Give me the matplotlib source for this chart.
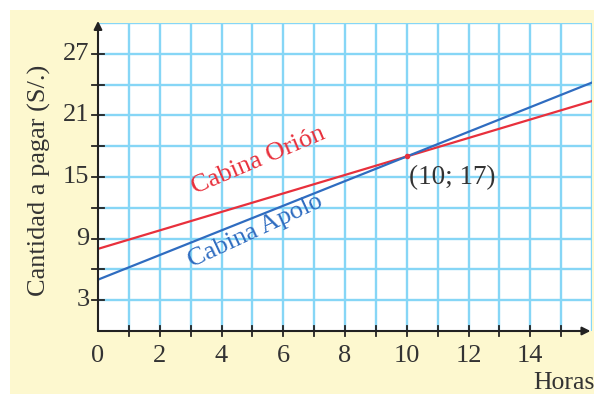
import matplotlib
matplotlib.use("Agg")
import matplotlib.pyplot as plt
from matplotlib.patches import Rectangle

# datos
horas = [0, 16]
orion = [8, 22.4]      # 8 + 0.9x
apolo = [5, 24.2]      # 5 + 1.2x
x_ticks = [0, 2, 4, 6, 8, 10, 12, 14]
y_ticks = [3, 9, 15, 21, 27]
punto = (10, 17)

plt.rcParams['font.family'] = ['Liberation Serif', 'DejaVu Serif']

fig = plt.figure(figsize=(5.94, 3.94), dpi=100)
fig.patch.set_facecolor('white')
fig.patches.append(Rectangle((10/594, 0), 1, 384/394, transform=fig.transFigure,
                             facecolor='#fdf8cf', edgecolor='none', zorder=-10))

ax = fig.add_axes([98/594, 63/394, 494/594, 308/394])
ax.set_facecolor('white')
ax.set_xlim(0, 16)
ax.set_ylim(0, 30)

# cuadricula
for gx in range(1, 17):
    ax.axvline(gx, color='#86d6f6', lw=1.7, zorder=1)
for gy in range(3, 31, 3):
    ax.axhline(gy, color='#86d6f6', lw=1.7, zorder=1)

ax.plot(horas, orion, color='#e8303c', lw=1.6, zorder=3)
ax.plot(horas, apolo, color='#2f6cc0', lw=1.6, zorder=3)
ax.plot(*punto, 'o', color='#e8303c', ms=3, zorder=4)

for s in ax.spines.values():
    s.set_visible(False)
ax.set_xticks([])
ax.set_yticks([])

# ejes con flechas
ax.annotate('', xy=(15.95, 0), xytext=(0, 0), xycoords='data',
            arrowprops=dict(arrowstyle='-|>', color='#222222', lw=1.5,
                            mutation_scale=12, shrinkA=0, shrinkB=0),
            annotation_clip=False, zorder=5)
ax.annotate('', xy=(0, 30.2), xytext=(0, 0), xycoords='data',
            arrowprops=dict(arrowstyle='-|>', color='#222222', lw=1.5,
                            mutation_scale=12, shrinkA=0, shrinkB=0),
            annotation_clip=False, zorder=5)

for tx in range(1, 16):
    ax.plot([tx, tx], [-0.45, 0.45], color='#222222', lw=1.3, clip_on=False, zorder=5)
for ty in range(3, 30, 3):
    ax.plot([-0.18, 0.18], [ty, ty], color='#222222', lw=1.3, clip_on=False, zorder=5)

for tx in x_ticks:
    ax.text(tx, -2.4, str(tx), ha='center', va='center', fontsize=19, color='#333333')
for ty in y_ticks:
    ax.text(-0.28, ty, str(ty), ha='right', va='center', fontsize=19, color='#333333')

ax.text(-1.9, 14.7, 'Cantidad a pagar (S/.)', rotation=90, ha='center', va='center',
        fontsize=19, color='#333333')
ax.text(16.1, -5.1, 'Horas', ha='right', va='center', fontsize=18.5, color='#333333')

ax.text(5.2, 16.6, 'Cabina Orión', rotation=23, ha='center', va='center',
        fontsize=19, color='#e8303c')
ax.text(5.1, 9.7, 'Cabina Apolo', rotation=25, ha='center', va='center',
        fontsize=19, color='#2f6cc0')
ax.text(11.47, 14.9, '(10; 17)', ha='center', va='center', fontsize=19.5, color='#333333')

fig.savefig('out.png', dpi=100)
